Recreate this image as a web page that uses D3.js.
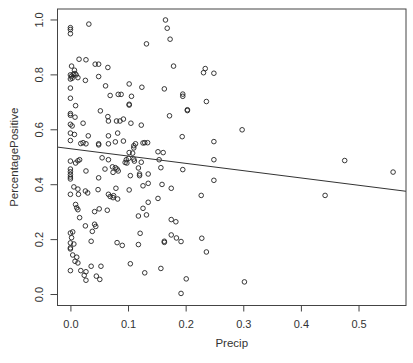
<!DOCTYPE html>
<html>
<head>
<meta charset="utf-8">
<script src="https://cdn.jsdelivr.net/npm/d3@7"></script>
<style>
  body { margin: 0; background: #fff; }
  text { font-family: "Liberation Sans", Arial, sans-serif; }
</style>
</head>
<body>
<div id="chart"></div>
<script>
// values
var precip = [
  0.000, 0.000, 0.000, 0.032, 0.015, 0.027, 0.043, 0.049, 0.065, 0.002,
  0.007, 0.000, 0.002, 0.005, 0.008, 0.010, 0.013, 0.003, 0.000, 0.026,
  0.049, 0.061, 0.102, 0.124, 0.000, 0.069, 0.083, 0.088, 0.106, 0.000,
  0.102, 0.102, 0.009, 0.052, 0.000, 0.000, 0.008, 0.065, 0.066, 0.080,
  0.086, 0.092, 0.105, 0.123, 0.000, 0.003, 0.022, 0.000, 0.007, 0.031,
  0.066, 0.082, 0.000, 0.018, 0.027, 0.022, 0.049, 0.049, 0.066, 0.078,
  0.092, 0.113, 0.110, 0.126, 0.102, 0.108, 0.000, 0.013, 0.016, 0.009,
  0.055, 0.066, 0.097, 0.095, 0.098, 0.101, 0.110, 0.111, 0.123, 0.000,
  0.000, 0.000, 0.000, 0.000, 0.027, 0.060, 0.073, 0.078, 0.081, 0.074,
  0.083, 0.049, 0.104, 0.120, 0.126, 0.006, 0.013, 0.000, 0.014, 0.026,
  0.030, 0.048, 0.079, 0.066, 0.069, 0.074, 0.082, 0.075, 0.102, 0.009,
  0.011, 0.013, 0.050, 0.042, 0.064, 0.126, 0.016, 0.118, 0.026, 0.042,
  0.044, 0.038, 0.000, 0.004, 0.002, 0.121, 0.000, 0.006, 0.036, 0.081,
  0.090, 0.118, 0.000, 0.000, 0.004, 0.011, 0.008, 0.013, 0.000, 0.018,
  0.027, 0.024, 0.027, 0.036, 0.053, 0.104, 0.045, 0.051, 0.129, 0.165,
  0.168, 0.173, 0.132, 0.179, 0.234, 0.231, 0.249, 0.163, 0.195, 0.195,
  0.236, 0.203, 0.203, 0.172, 0.194, 0.249, 0.298, 0.129, 0.134, 0.152,
  0.161, 0.110, 0.154, 0.249, 0.118, 0.120, 0.135, 0.157, 0.195, 0.135,
  0.159, 0.175, 0.249, 0.227, 0.152, 0.135, 0.132, 0.175, 0.183, 0.175,
  0.184, 0.192, 0.163, 0.163, 0.228, 0.236, 0.157, 0.201, 0.192, 0.476,
  0.560, 0.442, 0.302
];
var pctPositive = [
  0.972, 0.965, 0.950, 0.985, 0.857, 0.855, 0.839, 0.839, 0.827, 0.832,
  0.817, 0.800, 0.795, 0.802, 0.805, 0.800, 0.790, 0.788, 0.785, 0.780,
  0.794, 0.760, 0.767, 0.755, 0.752, 0.725, 0.729, 0.729, 0.722, 0.715,
  0.693, 0.690, 0.688, 0.669, 0.659, 0.653, 0.646, 0.648, 0.632, 0.632,
  0.632, 0.639, 0.624, 0.617, 0.620, 0.614, 0.624, 0.588, 0.583, 0.578,
  0.578, 0.588, 0.561, 0.550, 0.549, 0.553, 0.549, 0.545, 0.549, 0.556,
  0.559, 0.549, 0.542, 0.552, 0.517, 0.515, 0.486, 0.487, 0.491, 0.479,
  0.498, 0.491, 0.491, 0.481, 0.479, 0.496, 0.493, 0.486, 0.482, 0.457,
  0.447, 0.437, 0.428, 0.421, 0.450, 0.457, 0.465, 0.462, 0.457, 0.445,
  0.450, 0.425, 0.433, 0.433, 0.396, 0.392, 0.384, 0.365, 0.365, 0.377,
  0.370, 0.382, 0.387, 0.365, 0.357, 0.353, 0.348, 0.360, 0.381, 0.328,
  0.316, 0.309, 0.312, 0.302, 0.307, 0.314, 0.280, 0.286, 0.250, 0.256,
  0.248, 0.230, 0.224, 0.228, 0.207, 0.223, 0.188, 0.184, 0.194, 0.189,
  0.179, 0.182, 0.170, 0.166, 0.144, 0.136, 0.121, 0.115, 0.087, 0.087,
  0.083, 0.070, 0.052, 0.103, 0.103, 0.112, 0.067, 0.055, 0.079, 1.000,
  0.970, 0.930, 0.913, 0.832, 0.823, 0.808, 0.806, 0.749, 0.730, 0.722,
  0.703, 0.673, 0.670, 0.651, 0.575, 0.557, 0.600, 0.553, 0.553, 0.520,
  0.517, 0.534, 0.491, 0.491, 0.461, 0.439, 0.439, 0.462, 0.455, 0.405,
  0.401, 0.387, 0.416, 0.361, 0.350, 0.336, 0.290, 0.273, 0.265, 0.217,
  0.206, 0.193, 0.194, 0.190, 0.205, 0.155, 0.095, 0.057, 0.004, 0.488,
  0.446, 0.361, 0.046
];
var xTicks = [0, 0.1, 0.2, 0.3, 0.4, 0.5];
var yTicks = [0, 0.2, 0.4, 0.6, 0.8, 1.0];
// fitted line (abline)
var fitIntercept = 0.531,
    fitSlope = -0.266;

var width = 413,
    height = 363,
    plotLeft = 57.5, plotRight = 406, plotTop = 9, plotBottom = 305.5;

var svg = d3.select('#chart').append('svg')
  .attr('width', width)
  .attr('height', height);

var x = d3.scaleLinear().domain([-0.0224, 0.5824]).range([plotLeft, plotRight]);
var y = d3.scaleLinear().domain([-0.04, 1.04]).range([plotBottom, plotTop]);

var points = precip.map((p, i) => ({ p: p, v: pctPositive[i] }));

// points
svg.append('g').selectAll('circle')
  .data(points)
  .enter()
  .append('circle')
  .attr('cx', d => x(d.p))
  .attr('cy', d => y(d.v))
  .attr('r', 2.3)
  .attr('fill', 'none')
  .attr('stroke', '#222')
  .attr('stroke-width', 0.9);

// regression line
var xd = x.domain();
svg.append('line')
  .attr('x1', x(xd[0])).attr('y1', y(fitIntercept + fitSlope * xd[0]))
  .attr('x2', x(xd[1])).attr('y2', y(fitIntercept + fitSlope * xd[1]))
  .attr('stroke', '#333')
  .attr('stroke-width', 1);

// box
svg.append('rect')
  .attr('x', plotLeft).attr('y', plotTop)
  .attr('width', plotRight - plotLeft).attr('height', plotBottom - plotTop)
  .attr('fill', 'none')
  .attr('stroke', '#444')
  .attr('stroke-width', 1);

// axes
var xAxis = svg.append('g')
  .attr('transform', `translate(0,${plotBottom})`)
  .call(d3.axisBottom(x).tickValues(xTicks).tickFormat(d3.format('.1f')).tickSize(6).tickPadding(9));
var yAxis = svg.append('g')
  .attr('transform', `translate(${plotLeft},0)`)
  .call(d3.axisLeft(y).tickValues(yTicks).tickFormat(d3.format('.1f')).tickSize(7).tickPadding(0));

[xAxis, yAxis].forEach(function(g) {
  g.select('.domain').remove();
  g.selectAll('line').attr('stroke', '#444');
  g.selectAll('text').attr('fill', '#333').style('font-size', '11px');
});

// rotate y tick labels like R
yAxis.selectAll('.tick').attr('transform', null);
yAxis.selectAll('.tick line')
  .attr('y1', d => y(d)).attr('y2', d => y(d));
yAxis.selectAll('text')
  .attr('text-anchor', 'middle')
  .attr('x', null).attr('dy', null).attr('y', null)
  .attr('dominant-baseline', 'central')
  .attr('transform', d => `translate(-19,${y(d)}) rotate(-90)`);

// axis titles
svg.append('text')
  .attr('x', (plotLeft + plotRight) / 2)
  .attr('y', 347)
  .attr('text-anchor', 'middle')
  .attr('fill', '#333')
  .style('font-size', '11.5px')
  .text('Precip');

svg.append('text')
  .attr('transform', `translate(18,${(plotTop + plotBottom) / 2}) rotate(-90)`)
  .attr('text-anchor', 'middle')
  .attr('fill', '#333')
  .style('font-size', '11.5px')
  .text('PercentagePositive');
</script>
</body>
</html>
